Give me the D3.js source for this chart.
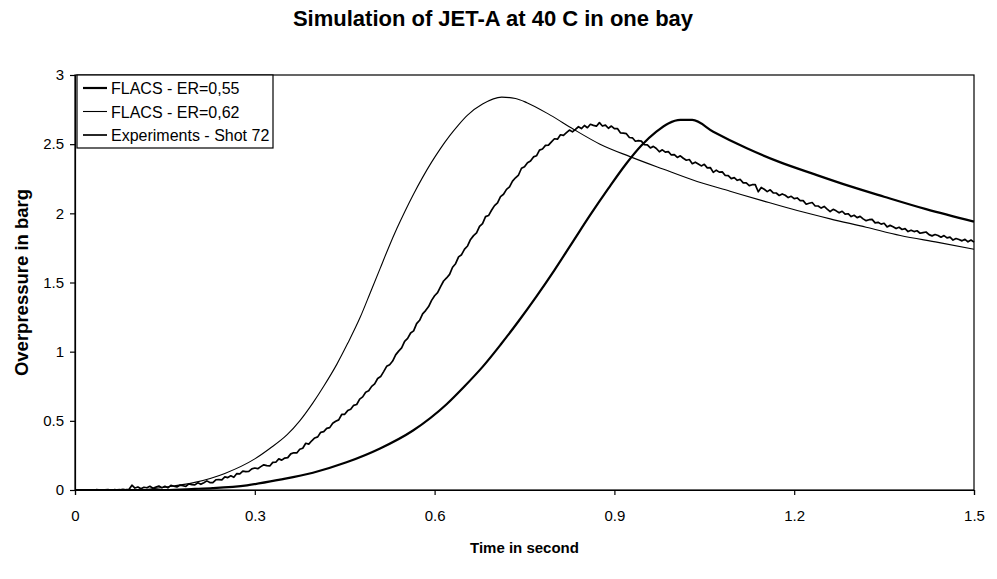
<!DOCTYPE html>
<html>
<head>
<meta charset="utf-8">
<script src="https://cdn.jsdelivr.net/npm/d3@7"></script>
<style>
  html, body { margin: 0; padding: 0; background: #fff; }
  svg { display: block; }
  text { font-family: "Liberation Sans", Arial, sans-serif; fill: #000; }
</style>
</head>
<body>
<svg id="chart" width="997" height="579"></svg>
<script>
// Overpressure histories (barg) vs time (s)
const xTicks = [0, 0.3, 0.6, 0.9, 1.2, 1.5];
const xTickLabels = ["0", "0.3", "0.6", "0.9", "1.2", "1.5"];
const yTicks = [0, 0.5, 1, 1.5, 2, 2.5, 3];
const yTickLabels = ["0", "0.5", "1", "1.5", "2", "2.5", "3"];

const seriesNames = ["FLACS - ER=0,55", "FLACS - ER=0,62", "Experiments - Shot 72"];

// FLACS, equivalence ratio 0.55
const er55Time = [0, 0.15, 0.2, 0.23, 0.287, 0.342, 0.397, 0.453, 0.509, 0.564, 0.62, 0.65, 0.68, 0.71, 0.74, 0.77, 0.8, 0.83, 0.86, 0.89, 0.92, 0.945, 0.97, 0.99, 1.01, 1.03, 1.065, 1.121, 1.176, 1.232, 1.29, 1.35, 1.42, 1.5];
const er55Values = [0, 0, 0.008, 0.014, 0.034, 0.075, 0.125, 0.2, 0.3, 0.43, 0.62, 0.75, 0.89, 1.05, 1.22, 1.4, 1.59, 1.79, 1.99, 2.18, 2.36, 2.49, 2.59, 2.65, 2.675, 2.675, 2.59, 2.47, 2.37, 2.285, 2.2, 2.12, 2.03, 1.94];

// FLACS, equivalence ratio 0.62
const er62Time = [0, 0.1, 0.15, 0.2, 0.25, 0.3, 0.325, 0.354, 0.375, 0.397, 0.415, 0.437, 0.455, 0.476, 0.493, 0.509, 0.523, 0.537, 0.55, 0.565, 0.58, 0.595, 0.61, 0.625, 0.64, 0.655, 0.68, 0.712, 0.735, 0.754, 0.793, 0.831, 0.876, 0.926, 0.981, 1.038, 1.093, 1.148, 1.205, 1.26, 1.32, 1.377, 1.44, 1.5];
const er62Values = [0, 0, 0.02, 0.055, 0.12, 0.225, 0.3, 0.4, 0.5, 0.63, 0.75, 0.91, 1.06, 1.25, 1.43, 1.6, 1.75, 1.89, 2.01, 2.14, 2.26, 2.37, 2.47, 2.56, 2.64, 2.71, 2.79, 2.84, 2.83, 2.8, 2.71, 2.61, 2.5, 2.41, 2.32, 2.23, 2.16, 2.09, 2.02, 1.96, 1.9, 1.84, 1.79, 1.74];

// Shot 72 pressure record, one sample every 5 ms from t = 0
const expStart = 0;
const expStep = 0.005;
const expValues = [
  0, 0, 0.002, 0, 0.001, 0, 0, 0.002, 0.001, 0, 0.001, 0.003, 0, 0.002, 0.001, 0.002, 0.004, 0.002, 0.003, 0.035,
  0.014, 0.022, 0.009, 0.020, 0.016, 0.027, 0.013, 0.021, 0.028, 0.017, 0.027, 0.016, 0.034, 0.027, 0.022, 0.035, 0.031, 0.026, 0.044, 0.039,
  0.037, 0.052, 0.041, 0.053, 0.066, 0.054, 0.054, 0.074, 0.075, 0.073, 0.095, 0.090, 0.103, 0.092, 0.119, 0.117, 0.136, 0.133, 0.135, 0.153,
  0.159, 0.154, 0.169, 0.182, 0.176, 0.174, 0.200, 0.201, 0.225, 0.216, 0.231, 0.234, 0.261, 0.269, 0.268, 0.295, 0.302, 0.338, 0.332, 0.356,
  0.376, 0.384, 0.417, 0.422, 0.445, 0.451, 0.483, 0.497, 0.507, 0.546, 0.547, 0.574, 0.584, 0.612, 0.618, 0.657, 0.673, 0.707, 0.717, 0.749,
  0.767, 0.806, 0.820, 0.856, 0.894, 0.906, 0.932, 0.977, 1.004, 1.027, 1.075, 1.096, 1.135, 1.150, 1.203, 1.227, 1.273, 1.297, 1.326, 1.371,
  1.404, 1.427, 1.470, 1.511, 1.533, 1.559, 1.610, 1.636, 1.685, 1.701, 1.741, 1.764, 1.811, 1.839, 1.858, 1.905, 1.926, 1.976, 1.984, 2.022,
  2.056, 2.076, 2.121, 2.138, 2.173, 2.191, 2.233, 2.257, 2.277, 2.326, 2.337, 2.366, 2.378, 2.408, 2.416, 2.457, 2.465, 2.491, 2.493, 2.517,
  2.539, 2.536, 2.568, 2.563, 2.583, 2.602, 2.589, 2.607, 2.626, 2.613, 2.635, 2.619, 2.644, 2.636, 2.630, 2.656, 2.631, 2.638, 2.615, 2.631,
  2.612, 2.613, 2.582, 2.580, 2.576, 2.548, 2.546, 2.521, 2.525, 2.522, 2.496, 2.495, 2.473, 2.484, 2.469, 2.445, 2.459, 2.442, 2.446, 2.422,
  2.425, 2.404, 2.416, 2.398, 2.384, 2.389, 2.359, 2.370, 2.357, 2.343, 2.354, 2.329, 2.331, 2.296, 2.312, 2.298, 2.300, 2.274, 2.273, 2.251,
  2.258, 2.239, 2.245, 2.220, 2.220, 2.200, 2.207, 2.207, 2.156, 2.187, 2.174, 2.157, 2.170, 2.148, 2.147, 2.129, 2.140, 2.131, 2.114, 2.123,
  2.106, 2.111, 2.092, 2.092, 2.066, 2.073, 2.078, 2.053, 2.053, 2.038, 2.050, 2.031, 2.013, 2.029, 2.018, 2.004, 2.015, 1.994, 1.997, 1.977,
  1.986, 1.969, 1.978, 1.960, 1.947, 1.954, 1.956, 1.931, 1.935, 1.922, 1.928, 1.902, 1.913, 1.903, 1.890, 1.899, 1.883, 1.889, 1.868, 1.878,
  1.868, 1.874, 1.856, 1.861, 1.865, 1.846, 1.837, 1.847, 1.840, 1.827, 1.839, 1.823, 1.828, 1.807, 1.818, 1.811, 1.801, 1.812, 1.794, 1.807,
  1.792
];

const svg = d3.select("#chart");
const margin = { left: 75, right: 23, top: 75, bottom: 89 };
const W = 997, H = 579;
const plotW = W - margin.left - margin.right;
const plotH = H - margin.top - margin.bottom;

const x = d3.scaleLinear().domain([0, 1.5]).range([margin.left, margin.left + plotW]);
const y = d3.scaleLinear().domain([0, 3]).range([margin.top + plotH, margin.top]);

// title
svg.append("text")
  .attr("x", 493).attr("y", 26)
  .attr("text-anchor", "middle")
  .style("font-size", "22px").style("font-weight", "bold")
  .text("Simulation of JET-A at 40 C in one bay");

// plot frame
svg.append("rect")
  .attr("x", margin.left).attr("y", margin.top)
  .attr("width", plotW).attr("height", plotH)
  .attr("fill", "none").attr("stroke", "#000").attr("stroke-width", 1.2);

// axes
const xAxis = d3.axisBottom(x).tickValues(xTicks)
  .tickFormat((d, i) => xTickLabels[i]).tickSizeOuter(0).tickSize(5).tickPadding(15);
const yAxis = d3.axisLeft(y).tickValues(yTicks)
  .tickFormat((d, i) => yTickLabels[i]).tickSizeOuter(0).tickSize(5).tickPadding(6);

const gx = svg.append("g").attr("transform", `translate(0,${margin.top + plotH})`).call(xAxis);
const gy = svg.append("g").attr("transform", `translate(${margin.left},0)`).call(yAxis);
[gx, gy].forEach(g => {
  g.selectAll("path").attr("stroke", "#000").attr("stroke-width", 1.2);
  g.selectAll("line").attr("stroke", "#000").attr("stroke-width", 1.2);
  g.selectAll("text").style("font-size", "15px").style("font-family", '"Liberation Sans", Arial, sans-serif').attr("fill", "#000");
});

// axis titles
svg.append("text")
  .attr("x", x(0.75)).attr("y", 553)
  .attr("text-anchor", "middle")
  .style("font-size", "15px").style("font-weight", "bold")
  .text("Time in second");

svg.append("text")
  .attr("transform", `translate(28,${y(1.5)}) rotate(-90)`)
  .attr("text-anchor", "middle")
  .style("font-size", "18.5px").style("font-weight", "bold")
  .text("Overpressure in barg");

// curves
const smooth = d3.line().x(d => x(d[0])).y(d => y(d[1])).curve(d3.curveMonotoneX);
const raw = d3.line().x(d => x(d[0])).y(d => y(d[1]));

const er55 = er55Time.map((t, i) => [t, er55Values[i]]);
const er62 = er62Time.map((t, i) => [t, er62Values[i]]);
const shot = expValues.map((v, i) => [expStart + i * expStep, v]);

const plot = svg.append("g");
plot.append("path").datum(er62).attr("d", smooth)
  .attr("fill", "none").attr("stroke", "#000").attr("stroke-width", 1.1);
plot.append("path").datum(shot).attr("d", raw)
  .attr("fill", "none").attr("stroke", "#000").attr("stroke-width", 1.7).attr("stroke-linejoin", "round");
plot.append("path").datum(er55).attr("d", smooth)
  .attr("fill", "none").attr("stroke", "#000").attr("stroke-width", 2.2);

// legend
const legend = svg.append("g");
legend.append("rect")
  .attr("x", 77).attr("y", 75).attr("width", 196).attr("height", 73)
  .attr("fill", "#fff").attr("stroke", "#000").attr("stroke-width", 1.2);
const legendWidths = [2.2, 1.1, 1.7];
seriesNames.forEach((name, i) => {
  const ly = 88 + i * 23.5;
  legend.append("line")
    .attr("x1", 83).attr("x2", 107).attr("y1", ly).attr("y2", ly)
    .attr("stroke", "#000").attr("stroke-width", legendWidths[i]);
  legend.append("text")
    .attr("x", 111).attr("y", ly + 6)
    .style("font-size", "16px")
    .text(name);
});
</script>
</body>
</html>
